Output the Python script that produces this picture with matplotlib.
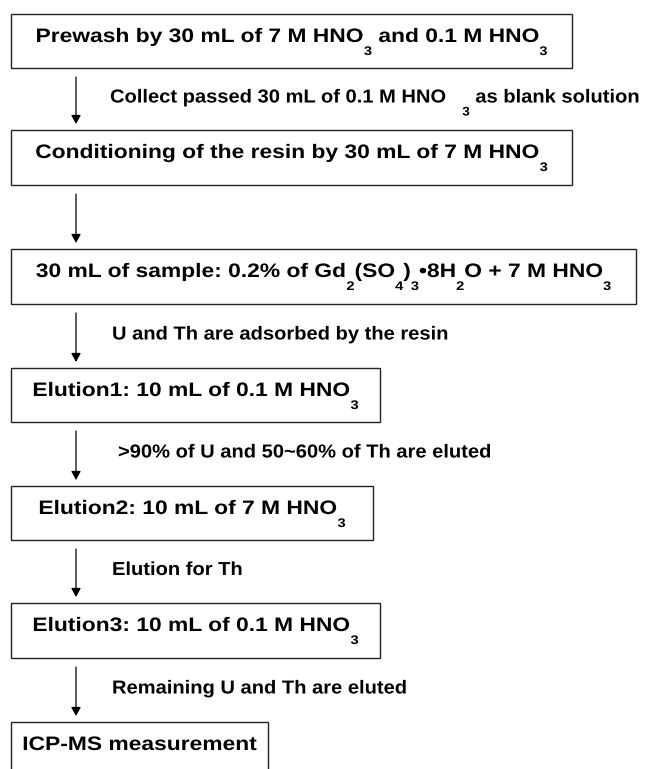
import re
import matplotlib
matplotlib.use('Agg')
import matplotlib.pyplot as plt
from matplotlib.patches import Rectangle, PathPatch
from matplotlib.textpath import TextPath
from matplotlib.font_manager import FontProperties, findfont, get_font
from matplotlib.transforms import Affine2D
from matplotlib.ft2font import LoadFlags

# steps of the procedure (box texts) and what happens between them (arrow labels)
# $_x$ marks a subscript
steps = [
    'Prewash by 30 mL of 7 M HNO$_3$ and 0.1 M HNO$_3$',
    'Conditioning of the resin by 30 mL of 7 M HNO$_3$',
    '30 mL of sample: 0.2% of Gd$_2$(SO$_4$)$_3$\u20228H$_2$O + 7 M HNO$_3$',
    'Elution1: 10 mL of 0.1 M HNO$_3$',
    'Elution2: 10 mL of 7 M HNO$_3$',
    'Elution3: 10 mL of 0.1 M HNO$_3$',
    'ICP-MS measurement',
]
notes = [
    'Collect passed 30 mL of 0.1 M HNO   $_3$ as blank solution',
    '',
    'U and Th are adsorbed by the resin',
    '>90% of U and 50~60% of Th are eluted',
    'Elution for Th',
    'Remaining U and Th are eluted',
]

# layout in pixels
box_top = [14, 130, 249, 368, 486, 603, 722]
box_bot = [68, 185, 304, 422, 540, 658, 777]
box_right = [572, 572, 636, 380, 373, 380, 268]
box_left = 11
arrow_x = 76
note_x = [110, 0, 112, 118, 112, 112]

fp = FontProperties(family='Liberation Sans', weight='bold')
ft = get_font(findfont(fp))
BOX_FONT = (19.5, 1.17)    # size px, horizontal stretch
NOTE_FONT = (18.8, 1.07)
SUB_EM = 12.5
SUB_DROP = 13


def advance(s, size):
    ft.set_size(size, 72)
    w = 0.0
    for c in s:
        g = ft.load_char(ord(c), flags=LoadFlags.NO_HINTING)
        w += g.linearHoriAdvance / 65536.0
    return w


fig = plt.figure(figsize=(6.68, 7.69), dpi=100)
ax = fig.add_axes([0, 0, 1, 1])
ax.set_xlim(0, 668)
ax.set_ylim(769, 0)
ax.axis('off')


def draw_label(x, y_base, label, font, ha='left'):
    em, xs = font
    parts = re.split(r'\$_(.+?)\$', label)
    items = []
    cursor = 0.0
    for k, p in enumerate(parts):
        if p == '':
            continue
        size = em if k % 2 == 0 else SUB_EM
        dy = 0 if k % 2 == 0 else SUB_DROP
        if p.strip():
            items.append((TextPath((0, 0), p, size=size, prop=fp), cursor, dy))
        cursor += advance(p, size)
    total = cursor * xs
    x0 = x - total / 2 if ha == 'center' else x
    for path, cx, dy in items:
        tr = Affine2D().translate(cx, 0).scale(xs, -1).translate(x0, y_base + dy)
        ax.add_patch(PathPatch(tr.transform_path(path), fc='black', ec='none', lw=0))


for i, s in enumerate(steps):
    ax.add_patch(Rectangle((box_left, box_top[i]), box_right[i] - box_left,
                           box_bot[i] - box_top[i], fill=False, ec='#222222', lw=1.0))
    draw_label((box_left + box_right[i]) / 2, box_top[i] + 28, s, BOX_FONT, ha='center')

for i, n in enumerate(notes):
    y0 = box_bot[i] + 9
    y1 = box_top[i + 1] - 6
    ax.annotate('', xy=(arrow_x, y1), xytext=(arrow_x, y0),
                arrowprops=dict(arrowstyle='-|>,head_length=0.4,head_width=0.22',
                                color='black', lw=0.9, mutation_scale=13,
                                shrinkA=0, shrinkB=0))
    if n:
        draw_label(note_x[i], (y0 + y1) / 2 + 2, n, NOTE_FONT)

fig.savefig('out.png', dpi=100)
